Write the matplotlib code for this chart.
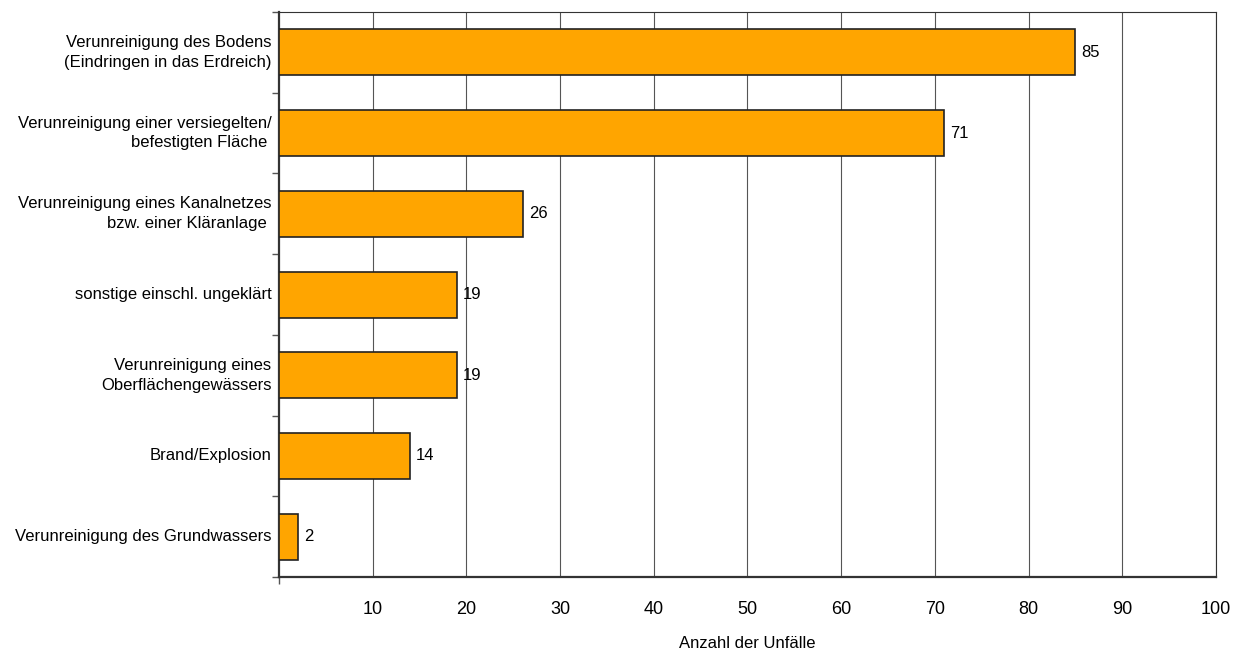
import numpy as np
import matplotlib.pyplot as plt

plt.rcParams['font.family'] = ['Liberation Sans', 'DejaVu Sans']

# ── data (top to bottom) ─────────────────────────────
categories = ['Verunreinigung des Bodens\n(Eindringen in das Erdreich)',
              'Verunreinigung einer versiegelten/\nbefestigten Fläche ',
              'Verunreinigung eines Kanalnetzes\nbzw. einer Kläranlage ',
              'sonstige einschl. ungeklärt',
              'Verunreinigung eines\nOberflächengewässers',
              'Brand/Explosion',
              'Verunreinigung des Grundwassers']
values = [85, 71, 26, 19, 19, 14, 2]
xticks = [10, 20, 30, 40, 50, 60, 70, 80, 90, 100]

fig = plt.figure(figsize=(12.36, 6.55), dpi=100)
ax = fig.add_axes([0.2257, 0.119, 0.9838 - 0.2257, 0.9817 - 0.119])

y = np.arange(len(categories))
ax.barh(y, values, height=0.57, color='#FFA500', edgecolor='#222222',
        linewidth=1.2, zorder=3)
for yi, v in zip(y, values):
    ax.text(v + 0.65, yi, str(v), va='center', ha='left', fontsize=12)

ax.set_ylim(len(categories) - 0.5, -0.5)
ax.set_xlim(0, 100)
ax.set_xticks(xticks)
ax.set_xticklabels([str(t) for t in xticks], fontsize=13)
ax.set_xticks([0], minor=True)
ax.tick_params(axis='x', which='major', length=0, pad=17)
ax.tick_params(axis='x', which='minor', length=5, width=1, color='#555555')
ax.grid(axis='x', which='major', color='#555555', linewidth=0.8, zorder=0)

# category labels as text, ticks on boundaries
ax.set_yticks(np.arange(len(categories) + 1) - 0.5)
ax.set_yticklabels([])
ax.tick_params(axis='y', length=5, width=1, color='#555555')
for yi, c in zip(y, categories):
    ax.text(-0.8, yi, c, ha='right', va='center', fontsize=12,
            multialignment='right', linespacing=1.4)

for s in ['top', 'right']:
    ax.spines[s].set_color('#333333')
    ax.spines[s].set_linewidth(0.8)
for s in ['left', 'bottom']:
    ax.spines[s].set_color('#333333')
    ax.spines[s].set_linewidth(1.6)

ax.set_xlabel('Anzahl der Unfälle', fontsize=12)
ax.xaxis.set_label_coords(0.5, -0.105)

fig.savefig('out.png', dpi=100)
